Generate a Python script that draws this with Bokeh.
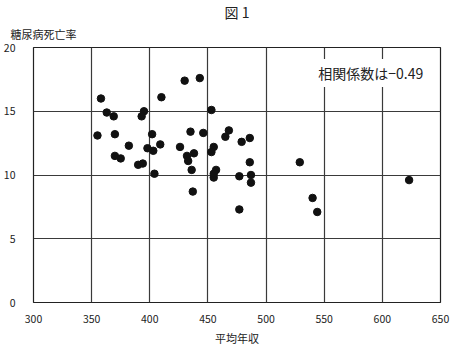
from bokeh.plotting import figure
from bokeh.models import Label, Range1d, FixedTicker, ColumnDataSource, Title
from bokeh.embed import file_html
from bokeh.resources import INLINE

# 平均年収 (average annual income) and 糖尿病死亡率 (diabetes mortality rate)
income = [358, 410, 363, 395, 369, 393, 355, 370, 402, 382, 409, 398, 403, 426,
          370, 375, 390, 394, 404, 430, 443, 453, 435, 446, 468, 465, 479, 486,
          455, 453, 438, 432, 433, 486, 529, 436, 457, 455, 477, 487, 487, 437,
          477, 540, 544, 623, 455]
mortality = [16.0, 16.1, 14.9, 15.0, 14.6, 14.6, 13.1, 13.2, 13.2, 12.3, 12.4,
             12.1, 11.9, 12.2, 11.5, 11.3, 10.8, 10.9, 10.1, 17.4, 17.6, 15.1,
             13.4, 13.3, 13.5, 13.0, 12.6, 12.9, 12.2, 11.8, 11.7, 11.5, 11.1,
             11.0, 11.0, 10.4, 10.4, 9.8, 9.9, 10.0, 9.4, 8.7, 7.3, 8.2, 7.1,
             9.6, 10.1]
x_ticks = [300, 350, 400, 450, 500, 550, 600, 650]
y_ticks = [0, 5, 10, 15, 20]
title_text = "図 1"
x_label = "平均年収"
y_label = "糖尿病死亡率"
corr_text = "相関係数は\u22120.49"

FONT = "Noto Sans CJK JP"

p = figure(width=456, height=348, output_backend="svg", toolbar_location=None,
           x_range=Range1d(300, 650), y_range=Range1d(0, 20),
           min_border_left=33, min_border_right=16, min_border_top=47,
           min_border_bottom=44)
p.background_fill_color = "white"
p.border_fill_color = "white"
p.outline_line_color = "#222222"
p.outline_line_width = 1.2

for ax in (p.xaxis[0], p.yaxis[0]):
    ax.axis_line_color = None
    ax.major_tick_line_color = None
    ax.minor_tick_line_color = None
    ax.major_label_text_font = FONT
    ax.major_label_text_font_size = "10.5px"
    ax.major_label_text_color = "#222222"

p.xaxis[0].ticker = FixedTicker(ticks=x_ticks)
p.yaxis[0].ticker = FixedTicker(ticks=y_ticks)
p.xaxis[0].major_label_standoff = 6
p.yaxis[0].major_label_standoff = 12
p.xaxis[0].axis_label = x_label
p.xaxis[0].axis_label_text_font = FONT
p.xaxis[0].axis_label_text_font_size = "11px"
p.xaxis[0].axis_label_text_font_style = "normal"
p.xaxis[0].axis_label_text_color = "#222222"
p.xaxis[0].axis_label_standoff = 4

p.xgrid.ticker = FixedTicker(ticks=x_ticks)
p.ygrid.ticker = FixedTicker(ticks=y_ticks)
for g in (p.xgrid[0], p.ygrid[0]):
    g.grid_line_color = "#3a3a3a"
    g.grid_line_width = 1.2
    g.grid_line_alpha = 1.0

src = ColumnDataSource(dict(x=income, y=mortality))
p.scatter("x", "y", source=src, size=7.5, fill_color="#111111",
          line_color="#111111")

p.add_layout(Label(x=590, y=18, text=corr_text, text_font=FONT,
                   text_font_size="14px", text_color="#222222",
                   text_align="center", text_baseline="middle",
                   background_fill_color="white", background_fill_alpha=1.0,
                   padding=4))

# y-axis caption, just above the frame, left side
ylab = Title(text=y_label, align="left", offset=-23, text_font=FONT,
             text_font_size="11px", text_font_style="normal",
             text_color="#222222", standoff=12)
p.add_layout(ylab, "above")

# figure caption at the top centre
p.title.text = title_text
p.title.align = "center"
p.title.text_font = FONT
p.title.text_font_size = "14px"
p.title.text_font_style = "normal"
p.title.text_color = "#222222"
p.title.offset = 0
p.title.standoff = -8

open("out.html", "w").write(file_html(p, INLINE))
